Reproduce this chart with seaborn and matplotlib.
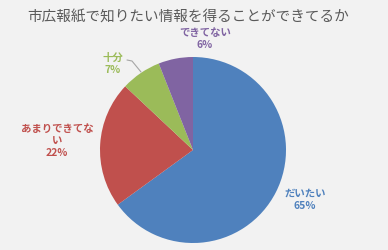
import matplotlib
matplotlib.use("Agg")
import matplotlib.pyplot as plt
import seaborn as sns

categories = ["だいたい", "あまりできてない", "十分", "できてない"]
values = [65, 22, 7, 6]
label_texts = ["だいたい\n65%", "あまりできてな\nい\n22%", "十分\n7%", "できてない\n6%"]
title = "市広報紙で知りたい情報を得ることができてるか"

sns.set_theme(style="white")
plt.rcParams['font.family'] = ['Noto Sans CJK JP', 'DejaVu Sans']

colors = sns.color_palette(["#4F81BD", "#C0504D", "#9BBB59", "#8064A2"])
bg = "#F2F2F2"

W, H = 388, 250
fig = plt.figure(figsize=(W / 100, H / 100), dpi=100, facecolor=bg)
ax = fig.add_axes([0, 0, 1, 1])
ax.set_facecolor(bg)

cx, cy, r = 193, 150, 93
# y axis is inverted: startangle -90 points up on screen, counterclock becomes clockwise
wedges, _ = ax.pie(values, colors=colors, startangle=-90, counterclock=True,
                   center=(cx, cy), radius=r, frame=True,
                   wedgeprops=dict(linewidth=0))
ax.set_xlim(0, W)
ax.set_ylim(H, 0)
ax.set_aspect("equal")
ax.axis("off")

fig.text(188.5 / W, 1 - 17 / H, title, ha="center", va="center", fontsize=10.5, color="#595959")

label_pos = [(305, 200), (57, 141), (113, 64), (205, 39)]
for txt, (x, y), c in zip(label_texts, label_pos, colors):
    ax.text(x, y, txt, ha="center", va="center", fontsize=7.5, fontweight="bold",
            color=c, linespacing=1.25)

ax.plot([127, 132, 141], [60, 61, 72], color="#A6A6A6", linewidth=0.8)

fig.savefig("out.png", dpi=100, facecolor=bg)
